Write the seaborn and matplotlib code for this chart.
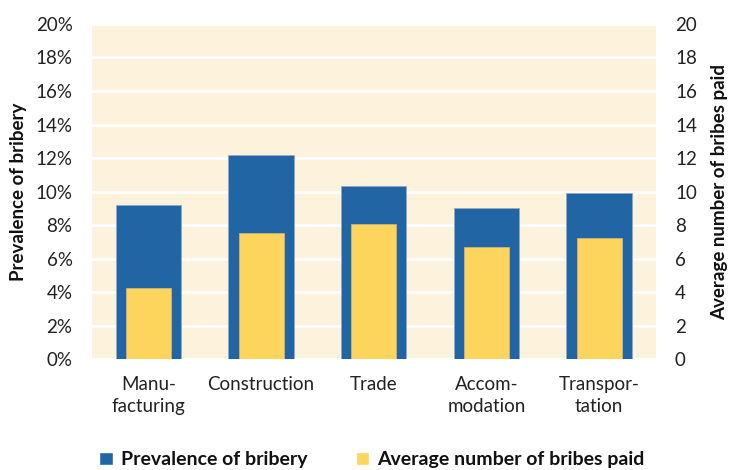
import matplotlib
matplotlib.use("Agg")
import matplotlib.pyplot as plt
import seaborn as sns
import pandas as pd
from matplotlib.patches import Patch
from matplotlib.ticker import FuncFormatter, MultipleLocator

categories = ["Manu-\nfacturing", "Construction", "Trade", "Accom-\nmodation", "Transpor-\ntation"]
prevalence = [9.2, 12.2, 10.3, 9.0, 9.9]          # percent
avg_bribes = [4.25, 7.5, 8.05, 6.7, 7.25]        # number

sns.set_theme(style="white")
plt.rcParams["font.family"] = ["Lato", "DejaVu Sans"]

blue = "#2165A5"
yellow = "#FDD55C"
bg = "#FDF3DC"

df = pd.DataFrame({"cat": categories, "prev": prevalence, "avg": avg_bribes})

fig = plt.figure(figsize=(7.3, 4.7), dpi=100)
ax = fig.add_axes([0.126, 0.236, 0.772, 0.713])
ax.set_facecolor(bg)
ax.set_axisbelow(True)
ax.yaxis.grid(True, color="white", linewidth=2)

sns.barplot(data=df, x="cat", y="prev", color=blue, saturation=1, width=0.58,
            edgecolor="#8FA8C8", linewidth=0.6, ax=ax)
ax.set_ylim(0, 20)
ax.yaxis.set_major_locator(MultipleLocator(2))
ax.yaxis.set_major_formatter(FuncFormatter(lambda v, p: f"{v:.0f}%"))
ax.set_xlabel("")
ax.set_ylabel("Prevalence of bribery", fontsize=13.5, fontweight="bold", labelpad=6,
              color="#111111")
ax.tick_params(axis="both", length=0, labelsize=13.5, colors="#222222")
ax.tick_params(axis="y", pad=14)
ax.tick_params(axis="x", pad=12)
for lbl in ax.get_xticklabels():
    lbl.set_linespacing(1.35)
for s in ax.spines.values():
    s.set_visible(False)

ax2 = ax.twinx()
sns.barplot(data=df, x="cat", y="avg", color=yellow, saturation=1, width=0.40,
            edgecolor="#C9B37A", linewidth=0.6, ax=ax2)
ax2.set_ylim(0, 20)
ax2.yaxis.set_major_locator(MultipleLocator(2))
ax2.set_ylabel("Average number of bribes paid", fontsize=13.5, fontweight="bold",
               labelpad=10, color="#111111")
ax2.tick_params(axis="y", length=0, labelsize=13.5, colors="#222222", pad=14)
ax2.set_xlabel("")
for s in ax2.spines.values():
    s.set_visible(False)
ax2.grid(False)

handles = [Patch(facecolor=blue, label="Prevalence of bribery"),
           Patch(facecolor=yellow, label="Average number of bribes paid")]
fig.legend(handles=handles, loc="center left", bbox_to_anchor=(0.112, 0.022), ncol=2,
           frameon=False, prop={"weight": "bold", "size": 14},
           handlelength=0.7, handleheight=0.7, handletextpad=0.4, columnspacing=2.5,
           labelcolor="#111111")

fig.savefig("out.png", dpi=100)
